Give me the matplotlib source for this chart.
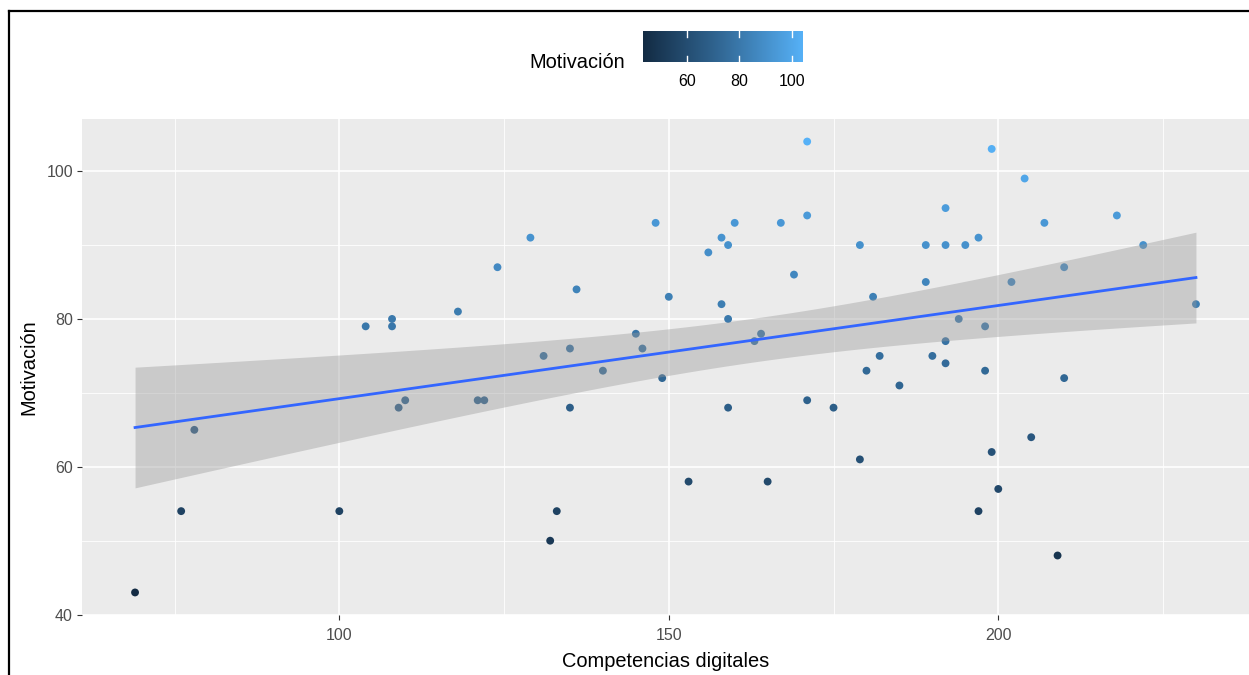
import numpy as np
import matplotlib
matplotlib.use("Agg")
import matplotlib.pyplot as plt
from matplotlib.colors import LinearSegmentedColormap, Normalize
from matplotlib.lines import Line2D

plt.rcParams['font.family'] = ['Liberation Sans', 'DejaVu Sans']

# Competencias digitales (x) vs Motivación (y)
competencias = [69, 76, 78, 100, 104, 108, 108, 109, 110, 118,
                121, 122, 124, 129, 131, 132, 133, 135, 135, 136,
                140, 145, 146, 148, 149, 150, 153, 156, 158, 158,
                159, 159, 159, 160, 163, 164, 165, 167, 169, 171,
                171, 171, 175, 179, 179, 180, 181, 182, 185, 189,
                189, 190, 192, 192, 192, 192, 194, 195, 197, 197,
                198, 198, 199, 199, 200, 202, 204, 205, 207, 209,
                210, 210, 218, 222, 230]
motivacion = [43, 54, 65, 54, 79, 80, 79, 68, 69, 81,
              69, 69, 87, 91, 75, 50, 54, 76, 68, 84,
              73, 78, 76, 93, 72, 83, 58, 89, 91, 82,
              90, 80, 68, 93, 77, 78, 58, 93, 86, 104,
              94, 69, 68, 90, 61, 73, 83, 75, 71, 90,
              85, 75, 95, 90, 77, 74, 80, 90, 91, 54,
              79, 73, 103, 62, 57, 85, 99, 64, 93, 48,
              87, 72, 94, 90, 82]

x_breaks = [100, 150, 200]
y_breaks = [40, 60, 80, 100]
legend_breaks = [60, 80, 100]

x = np.array(competencias, dtype=float)
y = np.array(motivacion, dtype=float)

# linear fit with 95% confidence band (t quantile for n-2 = 73 df)
n = len(x)
b1, b0 = np.polyfit(x, y, 1)
resid = y - (b0 + b1 * x)
s = np.sqrt(np.sum(resid ** 2) / (n - 2))
t_crit = 1.993
xs = np.linspace(x.min(), x.max(), 80)
fit = b0 + b1 * xs
se = s * np.sqrt(1 / n + (xs - x.mean()) ** 2 / np.sum((x - x.mean()) ** 2))

cmap = LinearSegmentedColormap.from_list('ggblue', ['#132B43', '#336A98', '#56B1F7'])
norm = Normalize(vmin=y.min(), vmax=y.max())

W, H = 1249, 675
fig = plt.figure(figsize=(W / 100, H / 100), dpi=100)
ax = fig.add_axes([82 / W, (H - 615) / H, (W - 82) / W, (615 - 119) / H])
ax.set_facecolor('#EBEBEB')
for sp in ax.spines.values():
    sp.set_visible(False)

xr = x.max() - x.min()
yr = y.max() - y.min()
ax.set_xlim(x.min() - 0.05 * xr, x.max() + 0.05 * xr)
ax.set_ylim(y.min() - 0.05 * yr, y.max() + 0.05 * yr)

ax.set_xticks(x_breaks)
ax.set_yticks(y_breaks)
ax.set_xticks([75, 125, 175, 225], minor=True)
ax.set_yticks([50, 70, 90], minor=True)
ax.grid(which='major', color='white', linewidth=1.2)
ax.grid(which='minor', color='white', linewidth=0.6)
ax.set_axisbelow(True)
ax.tick_params(which='major', length=3.5, width=0.8, color='#333333',
               labelsize=11.5, labelcolor='#4D4D4D', pad=3)
ax.tick_params(axis='x', which='major', pad=6)
ax.tick_params(which='minor', length=0)

ax.scatter(x, y, c=y, cmap=cmap, norm=norm, s=32, linewidths=0, zorder=2)
ax.fill_between(xs, fit - t_crit * se, fit + t_crit * se, color='#999999',
                alpha=0.4, linewidth=0, zorder=3)
ax.plot(xs, fit, color='#3366FF', linewidth=2.0, zorder=4)

ax.set_xlabel('Competencias digitales', fontsize=14.4, labelpad=6)
ax.set_ylabel('Motivación', fontsize=14.4, labelpad=6)

# colour legend on top
cax = fig.add_axes([643 / W, (H - 62.5) / H, 159 / W, 31.5 / H])
grad = np.linspace(y.min(), y.max(), 256).reshape(1, -1)
cax.imshow(grad, aspect='auto', cmap=cmap, norm=norm,
           extent=[y.min(), y.max(), 0, 1])
cax.set_xlim(y.min(), y.max())
cax.set_ylim(0, 1)
for b in legend_breaks:
    cax.plot([b, b], [0, 0.2], color='white', linewidth=1)
    cax.plot([b, b], [0.8, 1], color='white', linewidth=1)
cax.set_xticks(legend_breaks)
cax.set_yticks([])
cax.tick_params(length=0, labelsize=11.5, pad=8)
for sp in cax.spines.values():
    sp.set_visible(False)
fig.text(577 / W, 1 - 63 / H, 'Motivación', fontsize=14.4,
         ha='center', va='center')

# screenshot frame
fig.add_artist(Line2D([9 / W, 9 / W], [0, 1 - 10.5 / H], color='black',
                      linewidth=1.6, transform=fig.transFigure))
fig.add_artist(Line2D([8.5 / W, 1], [1 - 10.5 / H, 1 - 10.5 / H], color='black',
                      linewidth=1.6, transform=fig.transFigure))

fig.savefig('out.png', dpi=100)
